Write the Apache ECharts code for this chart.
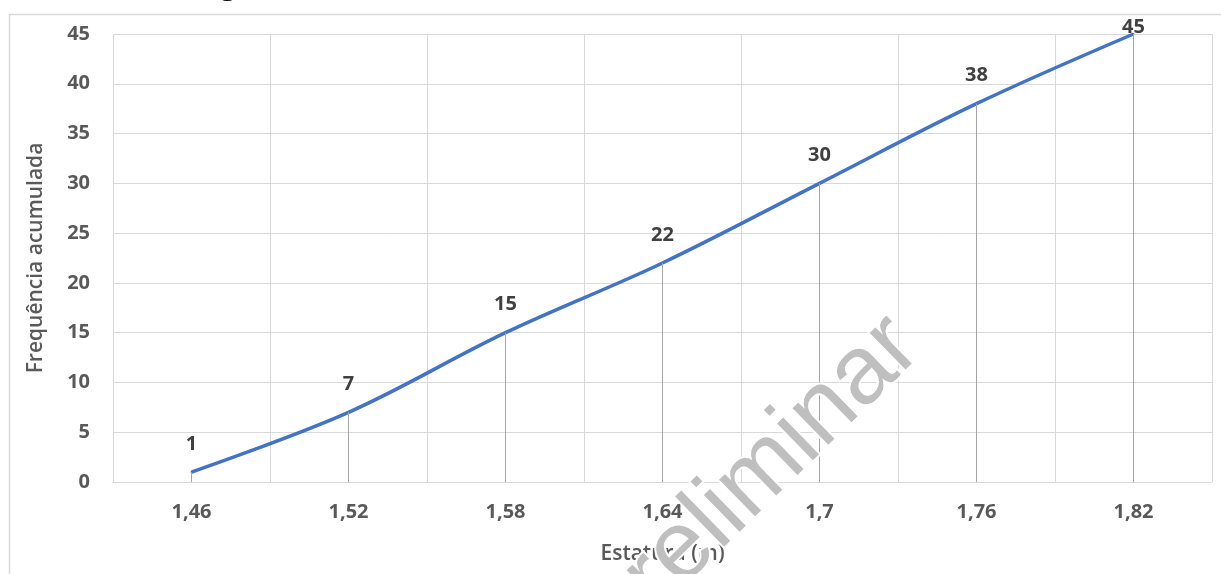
<!DOCTYPE html>
<html>
<head>
<meta charset="utf-8">
<script src="https://cdn.jsdelivr.net/npm/echarts@6/dist/echarts.min.js"></script>
<style>
  html, body { margin: 0; padding: 0; background: #ffffff; }
  #chart { width: 1221px; height: 574px; }
</style>
</head>
<body>
<div id="chart"></div>
<script>
// Cumulative frequency by height class (ogive)
const categories = ['1,46', '1,52', '1,58', '1,64', '1,7', '1,76', '1,82'];
const cumulative = [1, 7, 15, 22, 30, 38, 45];
const yTicks = { min: 0, max: 45, interval: 5 };

const FONT = '"Open Sans", Lato, sans-serif';
const TEXT = '#595959';
const GRID = '#d9d9d9';

// vertical drop lines from each point down to the axis
const dropLines = cumulative.map((v, i) => [
  { xAxis: i, yAxis: 0 },
  { xAxis: i, yAxis: v }
]);

// the topmost label is kept inside the frame, so it sits lower
const lineData = cumulative.map((v, i) =>
  i === cumulative.length - 1 ? { value: v, label: { offset: [0, 21] } } : v
);

const chart = echarts.init(document.getElementById('chart'), null, { renderer: 'canvas' });

chart.setOption({
  animation: false,
  backgroundColor: '#ffffff',
  grid: { left: 113, right: 9, top: 34, bottom: 92, containLabel: false },
  xAxis: {
    type: 'category',
    data: categories,
    boundaryGap: true,
    name: 'Estatura (m)',
    nameLocation: 'middle',
    nameGap: 62,
    nameTextStyle: { color: TEXT, fontFamily: FONT, fontSize: 21, fontWeight: 600 },
    axisLine: { show: true, lineStyle: { color: GRID, width: 1 } },
    axisTick: { show: false },
    axisLabel: { color: TEXT, fontFamily: FONT, fontSize: 20, fontWeight: 'bold', margin: 20 },
    splitLine: { show: true, lineStyle: { color: GRID, width: 1 } }
  },
  yAxis: {
    type: 'value',
    min: yTicks.min,
    max: yTicks.max,
    interval: yTicks.interval,
    name: 'Frequência acumulada',
    nameLocation: 'middle',
    nameRotate: 90,
    nameGap: 66,
    nameTextStyle: { color: TEXT, fontFamily: FONT, fontSize: 21, fontWeight: 600 },
    axisLine: { show: false },
    axisTick: { show: false },
    axisLabel: { color: TEXT, fontFamily: FONT, fontSize: 20, fontWeight: 'bold', margin: 23 },
    splitLine: { show: true, lineStyle: { color: GRID, width: 1 } }
  },
  series: [{
    type: 'line',
    data: lineData,
    smooth: 0.35,
    showSymbol: true,
    symbol: 'circle',
    symbolSize: 2,
    itemStyle: { color: '#4472c4' },
    lineStyle: { color: '#4472c4', width: 3.5 },
    label: {
      show: true,
      position: 'top',
      distance: 17,
      color: '#404040',
      fontFamily: FONT,
      fontSize: 20,
      fontWeight: 'bold'
    },
    markLine: {
      silent: true,
      symbol: ['none', 'none'],
      animation: false,
      label: { show: false },
      lineStyle: { color: '#a6a6a6', width: 1, type: 'solid' },
      emphasis: { disabled: true },
      data: dropLines
    },
    z: 3
  }],
  graphic: [
    // outer chart frame
    {
      type: 'rect',
      left: 7, top: 12,
      shape: { width: 1400, height: 800 },
      style: { fill: 'none', stroke: '#d9d9d9', lineWidth: 1.5 },
      silent: true, z: 0
    },
    // chart heading, mostly above the visible area
    {
      type: 'text',
      x: 198, y: 0,
      style: {
        text: 'Ogiva',
        fill: '#000000',
        font: 'bold 28px ' + FONT,
        textAlign: 'left',
        textVerticalAlign: 'bottom'
      },
      silent: true, z: 10
    },
    // draft watermark
    {
      type: 'text',
      x: 749, y: 485,
      rotation: 44.3 * Math.PI / 180,
      style: {
        text: 'Preliminar',
        fill: '#bfbfbf',
        stroke: '#ffffff',
        lineWidth: 4,
        font: '97px "Liberation Sans", sans-serif',
        textAlign: 'center',
        textVerticalAlign: 'middle'
      },
      silent: true, z: 100
    }
  ]
});
</script>
</body>
</html>
